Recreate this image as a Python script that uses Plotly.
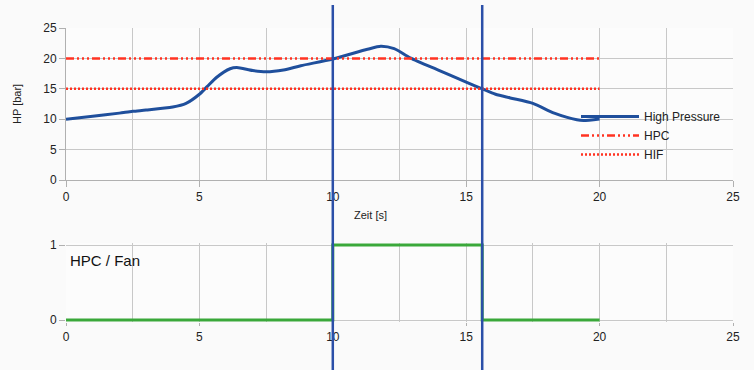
import plotly.graph_objects as go

# Data
hp_x = [0, 1, 2, 2.5, 3, 4, 4.5, 5, 5.3, 5.65, 6.15, 6.4, 7, 7.5, 8.15, 8.8, 10, 11.3, 11.8, 12.3, 12.9, 14, 15, 15.6, 16.1, 16.65, 17.5, 18.3, 19.15, 19.4, 20]
hp_y = [10, 10.5, 11.0, 11.3, 11.5, 12.0, 12.6, 14.1, 15.4, 16.9, 18.3, 18.5, 18.0, 17.8, 18.1, 18.8, 19.9, 21.5, 22.0, 21.6, 20.1, 18.0, 16.1, 15.0, 14.1, 13.5, 12.6, 11.0, 9.9, 9.8, 10.05]
ref_x = [0, 20]
hpc_y = [20, 20]
hif_y = [15, 15]
fan_x = [0, 10, 10, 15.6, 15.6, 20]
fan_y = [0, 0, 1, 1, 0, 0]
markers_x = [10, 15.6]

W, H = 754, 370
ml, mr, mt, mb = 66, 21, 24, 44
ph = H - mt - mb

def py(px):
    return (H - mb - px) / ph

font = "Liberation Sans, Arial, sans-serif"
grid = "#c8c8c8"
red = "#ff3322"
blue = "#1f4f9c"

fig = go.Figure()
fig.add_trace(go.Scatter(x=hp_x, y=hp_y, mode="lines", name="High Pressure",
                         line=dict(color=blue, width=3, shape="spline", smoothing=0.7),
                         xaxis="x", yaxis="y"))
fig.add_trace(go.Scatter(x=ref_x, y=hpc_y, mode="lines", name="HPC",
                         line=dict(color=red, width=2.5, dash="8px,3px,2px,3px,2px,3px,2px,3px"),
                         xaxis="x", yaxis="y"))
fig.add_trace(go.Scatter(x=ref_x, y=hif_y, mode="lines", name="HIF",
                         line=dict(color=red, width=2.5, dash="2px,2px"),
                         xaxis="x", yaxis="y"))
fig.add_trace(go.Scatter(x=fan_x, y=fan_y, mode="lines", name="HPC / Fan", showlegend=False,
                         line=dict(color="#3aa83a", width=3),
                         xaxis="x2", yaxis="y2"))

axcommon = dict(showline=True, linecolor="#b0b0b0", linewidth=1, gridcolor=grid, gridwidth=1,
                ticks="outside", ticklen=6, tickcolor="#b0b0b0", zeroline=False,
                tickfont=dict(family=font, size=12, color="#222"), mirror=False)

pad = 0.03  # padding so step line is not clipped at top/bottom
fig.update_layout(
    width=W, height=H,
    margin=dict(l=ml, r=mr, t=mt, b=mb),
    paper_bgcolor="#fafafa", plot_bgcolor="#fcfcfc",
    showlegend=True,
    legend=dict(x=(576 - ml) / (W - ml - mr), y=py(102), xanchor="left", yanchor="top",
                bgcolor="rgba(0,0,0,0)", font=dict(family=font, size=12, color="#222"),
                tracegroupgap=0, itemwidth=58),
    xaxis=dict(domain=[0, 1], range=[0, 25], dtick=5, anchor="y",
               minor=dict(dtick=2.5, showgrid=True, gridcolor=grid), **axcommon),
    yaxis=dict(domain=[py(180), py(28)], range=[0, 25], dtick=5, anchor="x", **axcommon),
    xaxis2=dict(domain=[0, 1], range=[0, 25], dtick=5, anchor="y2", showline=False,
                gridcolor=grid, ticks="outside", ticklen=3, tickcolor="#b0b0b0", zeroline=False,
                tickfont=dict(family=font, size=12, color="#222"),
                minor=dict(dtick=2.5, showgrid=True, gridcolor=grid)),
    yaxis2=dict(domain=[py(320 + 75 * pad), py(245 - 75 * pad)], range=[-pad, 1 + pad],
                tickvals=[0, 1], anchor="x2", showline=False, gridcolor=grid,
                ticks="outside", ticklen=6, tickcolor="#b0b0b0", zeroline=False,
                tickfont=dict(family=font, size=12, color="#222")),
    annotations=[
        dict(text="Zeit [s]", x=(370 - ml) / (W - ml - mr), y=py(215), xref="paper", yref="paper",
             showarrow=False, font=dict(family=font, size=11, color="#222")),
        dict(text="HP [bar]", x=(17 - ml) / (W - ml - mr), y=py(104), xref="paper", yref="paper",
             xanchor="center", yanchor="middle", textangle=-90,
             showarrow=False, font=dict(family=font, size=11, color="#222")),
        dict(text="HPC / Fan", x=(68 - ml) / (W - ml - mr), y=py(250), xref="paper", yref="paper",
             xanchor="left", yanchor="top", showarrow=False,
             font=dict(family=font, size=15, color="#111")),
    ],
)

for mx in markers_x:
    fig.add_shape(type="line", x0=mx, x1=mx, xref="x", y0=py(370), y1=py(5), yref="paper",
                  line=dict(color="#2b4fa8", width=2.5), layer="above")

fig.write_html("out.html")
